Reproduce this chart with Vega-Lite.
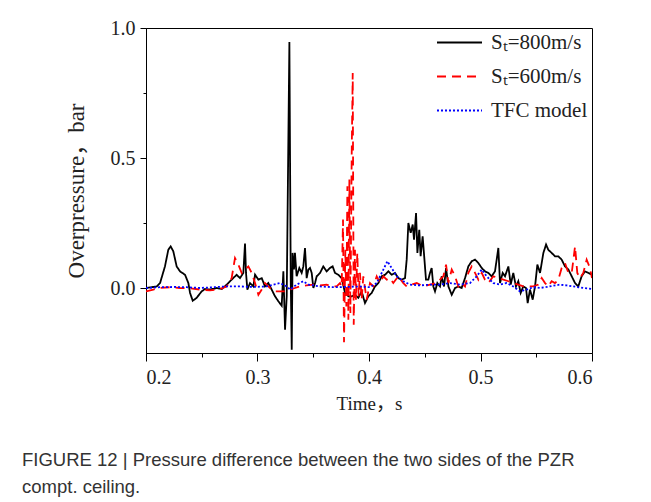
{
  "$schema": "https://vega.github.io/schema/vega-lite/v6.json",
  "autosize": {"type": "none"},
  "padding": {"left": 146, "top": 28, "right": 59, "bottom": 149},
  "width": 446,
  "height": 325,
  "background": "white",
  "title": {
    "text": ["FIGURE 12 | Pressure difference between the two sides of the PZR", "compt. ceiling."],
    "orient": "bottom",
    "anchor": "start",
    "frame": "group",
    "dx": -124,
    "offset": 38,
    "font": "Liberation Sans",
    "fontSize": 18.5,
    "fontWeight": "normal",
    "lineHeight": 27,
    "color": "#333333"
  },
  "config": {
    "view": {"stroke": "black", "strokeWidth": 1},
    "axis": {"domainColor": "black", "tickColor": "black", "labelColor": "#222222", "titleColor": "#222222", "grid": false}
  },
  "data": {"values": [
    {"t":0.2,"v":0,"s":"Sₜ=800m/s"},{"t":0.2096,"v":0.006,"s":"Sₜ=800m/s"},{"t":0.2126,"v":0.019,"s":"Sₜ=800m/s"},{"t":0.217,"v":0.083,"s":"Sₜ=800m/s"},{"t":0.22,"v":0.147,"s":"Sₜ=800m/s"},{"t":0.2221,"v":0.16,"s":"Sₜ=800m/s"},{"t":0.2245,"v":0.141,"s":"Sₜ=800m/s"},{"t":0.2275,"v":0.083,"s":"Sₜ=800m/s"},{"t":0.2305,"v":0.064,"s":"Sₜ=800m/s"},{"t":0.235,"v":0.051,"s":"Sₜ=800m/s"},{"t":0.238,"v":0.019,"s":"Sₜ=800m/s"},{"t":0.2395,"v":-0.019,"s":"Sₜ=800m/s"},{"t":0.2419,"v":-0.049,"s":"Sₜ=800m/s"},{"t":0.2454,"v":-0.038,"s":"Sₜ=800m/s"},{"t":0.2499,"v":-0.013,"s":"Sₜ=800m/s"},{"t":0.2529,"v":-0.004,"s":"Sₜ=800m/s"},{"t":0.2574,"v":-0.006,"s":"Sₜ=800m/s"},{"t":0.2634,"v":0,"s":"Sₜ=800m/s"},{"t":0.2679,"v":-0.004,"s":"Sₜ=800m/s"},{"t":0.2724,"v":0.013,"s":"Sₜ=800m/s"},{"t":0.2768,"v":0.032,"s":"Sₜ=800m/s"},{"t":0.2813,"v":0.051,"s":"Sₜ=800m/s"},{"t":0.2843,"v":0.038,"s":"Sₜ=800m/s"},{"t":0.2873,"v":0.058,"s":"Sₜ=800m/s"},{"t":0.2888,"v":0.171,"s":"Sₜ=800m/s"},{"t":0.2897,"v":0.058,"s":"Sₜ=800m/s"},{"t":0.2909,"v":-0.006,"s":"Sₜ=800m/s"},{"t":0.2933,"v":0.019,"s":"Sₜ=800m/s"},{"t":0.2963,"v":0.006,"s":"Sₜ=800m/s"},{"t":0.2978,"v":0.051,"s":"Sₜ=800m/s"},{"t":0.3008,"v":0.032,"s":"Sₜ=800m/s"},{"t":0.3038,"v":0.038,"s":"Sₜ=800m/s"},{"t":0.3067,"v":0.006,"s":"Sₜ=800m/s"},{"t":0.3097,"v":0.019,"s":"Sₜ=800m/s"},{"t":0.3127,"v":-0.006,"s":"Sₜ=800m/s"},{"t":0.3157,"v":-0.032,"s":"Sₜ=800m/s"},{"t":0.3187,"v":-0.051,"s":"Sₜ=800m/s"},{"t":0.3217,"v":-0.068,"s":"Sₜ=800m/s"},{"t":0.3232,"v":0.064,"s":"Sₜ=800m/s"},{"t":0.3247,"v":-0.16,"s":"Sₜ=800m/s"},{"t":0.3262,"v":-0.032,"s":"Sₜ=800m/s"},{"t":0.3286,"v":0.946,"s":"Sₜ=800m/s"},{"t":0.3298,"v":0.032,"s":"Sₜ=800m/s"},{"t":0.3307,"v":-0.237,"s":"Sₜ=800m/s"},{"t":0.3315,"v":0.135,"s":"Sₜ=800m/s"},{"t":0.3327,"v":0.071,"s":"Sₜ=800m/s"},{"t":0.3336,"v":0.135,"s":"Sₜ=800m/s"},{"t":0.3351,"v":0.045,"s":"Sₜ=800m/s"},{"t":0.3375,"v":0.077,"s":"Sₜ=800m/s"},{"t":0.3396,"v":0.058,"s":"Sₜ=800m/s"},{"t":0.3411,"v":0.083,"s":"Sₜ=800m/s"},{"t":0.3426,"v":0.154,"s":"Sₜ=800m/s"},{"t":0.3441,"v":0.038,"s":"Sₜ=800m/s"},{"t":0.3456,"v":0.071,"s":"Sₜ=800m/s"},{"t":0.3471,"v":0.077,"s":"Sₜ=800m/s"},{"t":0.3486,"v":0.058,"s":"Sₜ=800m/s"},{"t":0.3501,"v":0,"s":"Sₜ=800m/s"},{"t":0.3516,"v":0.019,"s":"Sₜ=800m/s"},{"t":0.3531,"v":0.045,"s":"Sₜ=800m/s"},{"t":0.3561,"v":0.058,"s":"Sₜ=800m/s"},{"t":0.359,"v":0.083,"s":"Sₜ=800m/s"},{"t":0.362,"v":0.064,"s":"Sₜ=800m/s"},{"t":0.365,"v":0.077,"s":"Sₜ=800m/s"},{"t":0.3674,"v":0.083,"s":"Sₜ=800m/s"},{"t":0.3695,"v":0.058,"s":"Sₜ=800m/s"},{"t":0.3725,"v":0.051,"s":"Sₜ=800m/s"},{"t":0.3755,"v":0.038,"s":"Sₜ=800m/s"},{"t":0.3785,"v":-0.019,"s":"Sₜ=800m/s"},{"t":0.3815,"v":-0.032,"s":"Sₜ=800m/s"},{"t":0.3845,"v":-0.032,"s":"Sₜ=800m/s"},{"t":0.3874,"v":-0.026,"s":"Sₜ=800m/s"},{"t":0.3904,"v":-0.038,"s":"Sₜ=800m/s"},{"t":0.3934,"v":-0.013,"s":"Sₜ=800m/s"},{"t":0.3964,"v":-0.058,"s":"Sₜ=800m/s"},{"t":0.3994,"v":-0.032,"s":"Sₜ=800m/s"},{"t":0.4024,"v":-0.019,"s":"Sₜ=800m/s"},{"t":0.4054,"v":0.006,"s":"Sₜ=800m/s"},{"t":0.4084,"v":0.019,"s":"Sₜ=800m/s"},{"t":0.4114,"v":0.045,"s":"Sₜ=800m/s"},{"t":0.4144,"v":0.051,"s":"Sₜ=800m/s"},{"t":0.4174,"v":0.064,"s":"Sₜ=800m/s"},{"t":0.4203,"v":0.051,"s":"Sₜ=800m/s"},{"t":0.4233,"v":0.058,"s":"Sₜ=800m/s"},{"t":0.4263,"v":0.038,"s":"Sₜ=800m/s"},{"t":0.4293,"v":0.032,"s":"Sₜ=800m/s"},{"t":0.4323,"v":0.038,"s":"Sₜ=800m/s"},{"t":0.4338,"v":0.109,"s":"Sₜ=800m/s"},{"t":0.4353,"v":0.25,"s":"Sₜ=800m/s"},{"t":0.4374,"v":0.212,"s":"Sₜ=800m/s"},{"t":0.4392,"v":0.244,"s":"Sₜ=800m/s"},{"t":0.4404,"v":0.186,"s":"Sₜ=800m/s"},{"t":0.4422,"v":0.288,"s":"Sₜ=800m/s"},{"t":0.4434,"v":0.135,"s":"Sₜ=800m/s"},{"t":0.4451,"v":0.224,"s":"Sₜ=800m/s"},{"t":0.4463,"v":0.122,"s":"Sₜ=800m/s"},{"t":0.4481,"v":0.199,"s":"Sₜ=800m/s"},{"t":0.4502,"v":0.083,"s":"Sₜ=800m/s"},{"t":0.4511,"v":0.032,"s":"Sₜ=800m/s"},{"t":0.4532,"v":0.032,"s":"Sₜ=800m/s"},{"t":0.4547,"v":0.058,"s":"Sₜ=800m/s"},{"t":0.4562,"v":0.077,"s":"Sₜ=800m/s"},{"t":0.4577,"v":0.006,"s":"Sₜ=800m/s"},{"t":0.4592,"v":-0.013,"s":"Sₜ=800m/s"},{"t":0.4613,"v":0.019,"s":"Sₜ=800m/s"},{"t":0.4637,"v":0.006,"s":"Sₜ=800m/s"},{"t":0.4652,"v":0.045,"s":"Sₜ=800m/s"},{"t":0.4673,"v":0.006,"s":"Sₜ=800m/s"},{"t":0.4691,"v":0.077,"s":"Sₜ=800m/s"},{"t":0.4712,"v":0.006,"s":"Sₜ=800m/s"},{"t":0.4742,"v":-0.026,"s":"Sₜ=800m/s"},{"t":0.4772,"v":0,"s":"Sₜ=800m/s"},{"t":0.4801,"v":0.006,"s":"Sₜ=800m/s"},{"t":0.4831,"v":0,"s":"Sₜ=800m/s"},{"t":0.4861,"v":0.038,"s":"Sₜ=800m/s"},{"t":0.4891,"v":0.083,"s":"Sₜ=800m/s"},{"t":0.4921,"v":0.103,"s":"Sₜ=800m/s"},{"t":0.4951,"v":0.109,"s":"Sₜ=800m/s"},{"t":0.4981,"v":0.096,"s":"Sₜ=800m/s"},{"t":0.5011,"v":0.077,"s":"Sₜ=800m/s"},{"t":0.504,"v":0.064,"s":"Sₜ=800m/s"},{"t":0.507,"v":0.058,"s":"Sₜ=800m/s"},{"t":0.51,"v":0.045,"s":"Sₜ=800m/s"},{"t":0.513,"v":0.064,"s":"Sₜ=800m/s"},{"t":0.516,"v":0.154,"s":"Sₜ=800m/s"},{"t":0.5175,"v":0.019,"s":"Sₜ=800m/s"},{"t":0.5199,"v":0.058,"s":"Sₜ=800m/s"},{"t":0.522,"v":0.045,"s":"Sₜ=800m/s"},{"t":0.525,"v":0.083,"s":"Sₜ=800m/s"},{"t":0.5271,"v":0.013,"s":"Sₜ=800m/s"},{"t":0.5294,"v":0.058,"s":"Sₜ=800m/s"},{"t":0.5318,"v":0.006,"s":"Sₜ=800m/s"},{"t":0.5339,"v":0.026,"s":"Sₜ=800m/s"},{"t":0.536,"v":-0.019,"s":"Sₜ=800m/s"},{"t":0.5384,"v":0.006,"s":"Sₜ=800m/s"},{"t":0.5408,"v":0,"s":"Sₜ=800m/s"},{"t":0.5423,"v":-0.058,"s":"Sₜ=800m/s"},{"t":0.5444,"v":-0.006,"s":"Sₜ=800m/s"},{"t":0.5468,"v":-0.045,"s":"Sₜ=800m/s"},{"t":0.5489,"v":0.006,"s":"Sₜ=800m/s"},{"t":0.551,"v":0.09,"s":"Sₜ=800m/s"},{"t":0.5534,"v":0.058,"s":"Sₜ=800m/s"},{"t":0.5564,"v":0.135,"s":"Sₜ=800m/s"},{"t":0.5588,"v":0.167,"s":"Sₜ=800m/s"},{"t":0.5608,"v":0.147,"s":"Sₜ=800m/s"},{"t":0.5638,"v":0.135,"s":"Sₜ=800m/s"},{"t":0.5668,"v":0.122,"s":"Sₜ=800m/s"},{"t":0.5698,"v":0.122,"s":"Sₜ=800m/s"},{"t":0.5728,"v":0.109,"s":"Sₜ=800m/s"},{"t":0.5758,"v":0.083,"s":"Sₜ=800m/s"},{"t":0.5788,"v":0.071,"s":"Sₜ=800m/s"},{"t":0.5818,"v":0.045,"s":"Sₜ=800m/s"},{"t":0.5848,"v":0.019,"s":"Sₜ=800m/s"},{"t":0.5877,"v":0.006,"s":"Sₜ=800m/s"},{"t":0.5907,"v":0.045,"s":"Sₜ=800m/s"},{"t":0.5937,"v":0.064,"s":"Sₜ=800m/s"},{"t":0.5967,"v":0.058,"s":"Sₜ=800m/s"},{"t":0.6,"v":0.051,"s":"Sₜ=800m/s"},
    {"t":0.2,"v":-0.013,"s":"Sₜ=600m/s"},{"t":0.2066,"v":-0.006,"s":"Sₜ=600m/s"},{"t":0.2126,"v":0,"s":"Sₜ=600m/s"},{"t":0.2215,"v":0.003,"s":"Sₜ=600m/s"},{"t":0.2305,"v":0,"s":"Sₜ=600m/s"},{"t":0.2395,"v":-0.001,"s":"Sₜ=600m/s"},{"t":0.2484,"v":-0.006,"s":"Sₜ=600m/s"},{"t":0.2574,"v":-0.009,"s":"Sₜ=600m/s"},{"t":0.2664,"v":-0.004,"s":"Sₜ=600m/s"},{"t":0.2724,"v":0.006,"s":"Sₜ=600m/s"},{"t":0.2768,"v":0.038,"s":"Sₜ=600m/s"},{"t":0.2798,"v":0.115,"s":"Sₜ=600m/s"},{"t":0.2828,"v":0.09,"s":"Sₜ=600m/s"},{"t":0.2858,"v":0.058,"s":"Sₜ=600m/s"},{"t":0.2888,"v":0.071,"s":"Sₜ=600m/s"},{"t":0.2918,"v":0.083,"s":"Sₜ=600m/s"},{"t":0.2948,"v":0.058,"s":"Sₜ=600m/s"},{"t":0.2978,"v":0.019,"s":"Sₜ=600m/s"},{"t":0.3008,"v":-0.026,"s":"Sₜ=600m/s"},{"t":0.3038,"v":-0.006,"s":"Sₜ=600m/s"},{"t":0.3067,"v":0.019,"s":"Sₜ=600m/s"},{"t":0.3097,"v":0.006,"s":"Sₜ=600m/s"},{"t":0.3127,"v":-0.006,"s":"Sₜ=600m/s"},{"t":0.3157,"v":-0.013,"s":"Sₜ=600m/s"},{"t":0.3202,"v":-0.013,"s":"Sₜ=600m/s"},{"t":0.3247,"v":-0.013,"s":"Sₜ=600m/s"},{"t":0.3292,"v":-0.006,"s":"Sₜ=600m/s"},{"t":0.3336,"v":0,"s":"Sₜ=600m/s"},{"t":0.3381,"v":0.006,"s":"Sₜ=600m/s"},{"t":0.3441,"v":0.01,"s":"Sₜ=600m/s"},{"t":0.3501,"v":0.013,"s":"Sₜ=600m/s"},{"t":0.3561,"v":0.01,"s":"Sₜ=600m/s"},{"t":0.362,"v":0.013,"s":"Sₜ=600m/s"},{"t":0.3665,"v":0.006,"s":"Sₜ=600m/s"},{"t":0.371,"v":0.006,"s":"Sₜ=600m/s"},{"t":0.374,"v":0.019,"s":"Sₜ=600m/s"},{"t":0.3755,"v":0.006,"s":"Sₜ=600m/s"},{"t":0.3767,"v":0.263,"s":"Sₜ=600m/s"},{"t":0.3776,"v":-0.209,"s":"Sₜ=600m/s"},{"t":0.3788,"v":0.147,"s":"Sₜ=600m/s"},{"t":0.3797,"v":-0.071,"s":"Sₜ=600m/s"},{"t":0.3806,"v":0.391,"s":"Sₜ=600m/s"},{"t":0.3815,"v":-0.122,"s":"Sₜ=600m/s"},{"t":0.3824,"v":0.417,"s":"Sₜ=600m/s"},{"t":0.3833,"v":-0.096,"s":"Sₜ=600m/s"},{"t":0.3845,"v":0.519,"s":"Sₜ=600m/s"},{"t":0.3854,"v":0.827,"s":"Sₜ=600m/s"},{"t":0.3863,"v":-0.141,"s":"Sₜ=600m/s"},{"t":0.3874,"v":0.147,"s":"Sₜ=600m/s"},{"t":0.3883,"v":-0.045,"s":"Sₜ=600m/s"},{"t":0.3895,"v":0.135,"s":"Sₜ=600m/s"},{"t":0.3907,"v":-0.032,"s":"Sₜ=600m/s"},{"t":0.3919,"v":0.058,"s":"Sₜ=600m/s"},{"t":0.3934,"v":-0.045,"s":"Sₜ=600m/s"},{"t":0.3949,"v":0.045,"s":"Sₜ=600m/s"},{"t":0.3979,"v":-0.045,"s":"Sₜ=600m/s"},{"t":0.4009,"v":0.019,"s":"Sₜ=600m/s"},{"t":0.4039,"v":0.006,"s":"Sₜ=600m/s"},{"t":0.4069,"v":0.045,"s":"Sₜ=600m/s"},{"t":0.4099,"v":0.019,"s":"Sₜ=600m/s"},{"t":0.4129,"v":0.045,"s":"Sₜ=600m/s"},{"t":0.4159,"v":0.032,"s":"Sₜ=600m/s"},{"t":0.4188,"v":0.038,"s":"Sₜ=600m/s"},{"t":0.4218,"v":0.019,"s":"Sₜ=600m/s"},{"t":0.4263,"v":0.045,"s":"Sₜ=600m/s"},{"t":0.4308,"v":0.019,"s":"Sₜ=600m/s"},{"t":0.4338,"v":0.006,"s":"Sₜ=600m/s"},{"t":0.4383,"v":0.013,"s":"Sₜ=600m/s"},{"t":0.4428,"v":0.019,"s":"Sₜ=600m/s"},{"t":0.4487,"v":0.006,"s":"Sₜ=600m/s"},{"t":0.4547,"v":0.013,"s":"Sₜ=600m/s"},{"t":0.4607,"v":0.019,"s":"Sₜ=600m/s"},{"t":0.4637,"v":0.032,"s":"Sₜ=600m/s"},{"t":0.4667,"v":0.045,"s":"Sₜ=600m/s"},{"t":0.4691,"v":0.09,"s":"Sₜ=600m/s"},{"t":0.4712,"v":0.019,"s":"Sₜ=600m/s"},{"t":0.4742,"v":0.071,"s":"Sₜ=600m/s"},{"t":0.4772,"v":0.045,"s":"Sₜ=600m/s"},{"t":0.4801,"v":0.006,"s":"Sₜ=600m/s"},{"t":0.4831,"v":0.019,"s":"Sₜ=600m/s"},{"t":0.4861,"v":0.006,"s":"Sₜ=600m/s"},{"t":0.4891,"v":0.058,"s":"Sₜ=600m/s"},{"t":0.4921,"v":0.083,"s":"Sₜ=600m/s"},{"t":0.4951,"v":0.058,"s":"Sₜ=600m/s"},{"t":0.4981,"v":0.032,"s":"Sₜ=600m/s"},{"t":0.5011,"v":0.058,"s":"Sₜ=600m/s"},{"t":0.504,"v":0.032,"s":"Sₜ=600m/s"},{"t":0.507,"v":0.019,"s":"Sₜ=600m/s"},{"t":0.5115,"v":0.045,"s":"Sₜ=600m/s"},{"t":0.516,"v":0.038,"s":"Sₜ=600m/s"},{"t":0.5205,"v":0.032,"s":"Sₜ=600m/s"},{"t":0.525,"v":0.026,"s":"Sₜ=600m/s"},{"t":0.5294,"v":0.019,"s":"Sₜ=600m/s"},{"t":0.5339,"v":0.013,"s":"Sₜ=600m/s"},{"t":0.5384,"v":0.006,"s":"Sₜ=600m/s"},{"t":0.5429,"v":0.006,"s":"Sₜ=600m/s"},{"t":0.5474,"v":0.006,"s":"Sₜ=600m/s"},{"t":0.5519,"v":0.013,"s":"Sₜ=600m/s"},{"t":0.5549,"v":0.038,"s":"Sₜ=600m/s"},{"t":0.5579,"v":0.019,"s":"Sₜ=600m/s"},{"t":0.5608,"v":0.006,"s":"Sₜ=600m/s"},{"t":0.5638,"v":0.026,"s":"Sₜ=600m/s"},{"t":0.5668,"v":0.019,"s":"Sₜ=600m/s"},{"t":0.5698,"v":0.032,"s":"Sₜ=600m/s"},{"t":0.5728,"v":0.077,"s":"Sₜ=600m/s"},{"t":0.5758,"v":0.096,"s":"Sₜ=600m/s"},{"t":0.5788,"v":0.058,"s":"Sₜ=600m/s"},{"t":0.5818,"v":0.058,"s":"Sₜ=600m/s"},{"t":0.5848,"v":0.16,"s":"Sₜ=600m/s"},{"t":0.5868,"v":0.058,"s":"Sₜ=600m/s"},{"t":0.5892,"v":0.038,"s":"Sₜ=600m/s"},{"t":0.5922,"v":0.058,"s":"Sₜ=600m/s"},{"t":0.5952,"v":0.109,"s":"Sₜ=600m/s"},{"t":0.5982,"v":0.077,"s":"Sₜ=600m/s"},{"t":0.6,"v":0.038,"s":"Sₜ=600m/s"},
    {"t":0.2,"v":0,"s":"TFC model"},{"t":0.2126,"v":0.003,"s":"TFC model"},{"t":0.2245,"v":0.004,"s":"TFC model"},{"t":0.2365,"v":0.003,"s":"TFC model"},{"t":0.2484,"v":0,"s":"TFC model"},{"t":0.2604,"v":0.003,"s":"TFC model"},{"t":0.2724,"v":0.006,"s":"TFC model"},{"t":0.2843,"v":0.006,"s":"TFC model"},{"t":0.2963,"v":0.004,"s":"TFC model"},{"t":0.3082,"v":0.006,"s":"TFC model"},{"t":0.3142,"v":0.013,"s":"TFC model"},{"t":0.3202,"v":0.019,"s":"TFC model"},{"t":0.3262,"v":0.006,"s":"TFC model"},{"t":0.3292,"v":-0.006,"s":"TFC model"},{"t":0.3351,"v":0.013,"s":"TFC model"},{"t":0.3411,"v":0.026,"s":"TFC model"},{"t":0.3456,"v":0.013,"s":"TFC model"},{"t":0.3561,"v":0.006,"s":"TFC model"},{"t":0.368,"v":0.003,"s":"TFC model"},{"t":0.38,"v":0.004,"s":"TFC model"},{"t":0.3919,"v":0.006,"s":"TFC model"},{"t":0.4009,"v":0.003,"s":"TFC model"},{"t":0.4069,"v":0.019,"s":"TFC model"},{"t":0.4114,"v":0.058,"s":"TFC model"},{"t":0.4165,"v":0.103,"s":"TFC model"},{"t":0.4203,"v":0.077,"s":"TFC model"},{"t":0.4248,"v":0.045,"s":"TFC model"},{"t":0.4308,"v":0.026,"s":"TFC model"},{"t":0.4368,"v":0.013,"s":"TFC model"},{"t":0.4457,"v":0.01,"s":"TFC model"},{"t":0.4547,"v":0.013,"s":"TFC model"},{"t":0.4637,"v":0.013,"s":"TFC model"},{"t":0.4727,"v":0.019,"s":"TFC model"},{"t":0.4816,"v":0.013,"s":"TFC model"},{"t":0.4906,"v":0.019,"s":"TFC model"},{"t":0.4966,"v":0.045,"s":"TFC model"},{"t":0.5011,"v":0.071,"s":"TFC model"},{"t":0.5055,"v":0.045,"s":"TFC model"},{"t":0.5115,"v":0.019,"s":"TFC model"},{"t":0.5175,"v":0.013,"s":"TFC model"},{"t":0.5235,"v":0.019,"s":"TFC model"},{"t":0.5294,"v":0.006,"s":"TFC model"},{"t":0.5354,"v":-0.013,"s":"TFC model"},{"t":0.5414,"v":-0.006,"s":"TFC model"},{"t":0.5474,"v":0.003,"s":"TFC model"},{"t":0.5534,"v":0,"s":"TFC model"},{"t":0.5594,"v":0.004,"s":"TFC model"},{"t":0.5653,"v":0.009,"s":"TFC model"},{"t":0.5713,"v":0.013,"s":"TFC model"},{"t":0.5773,"v":0.01,"s":"TFC model"},{"t":0.5833,"v":0.006,"s":"TFC model"},{"t":0.5922,"v":0,"s":"TFC model"},{"t":0.6,"v":-0.004,"s":"TFC model"}
  ]},
  "mark": {"type": "line", "strokeWidth": 1.8, "clip": true},
  "encoding": {
    "x": {
      "field": "t", "type": "quantitative",
      "scale": {"domain": [0.2, 0.6], "nice": false, "zero": false},
      "axis": {
        "title": "Time，s",
        "values": [0.2, 0.25, 0.3, 0.35, 0.4, 0.45, 0.5, 0.55, 0.6],
        "labelExpr": "round(datum.value*100) % 10 == 0 ? format(datum.value, '.1f') : ''",
        "tickSize": {"condition": {"test": "round(datum.value*100) % 10 == 5", "value": 4}, "value": 8},
        "labelFont": "Liberation Serif", "labelFontSize": 20, "labelPadding": 6,
        "titleFont": "Liberation Serif, Noto Sans CJK SC", "titleFontSize": 19, "titleFontWeight": "normal", "titlePadding": 7
      }
    },
    "y": {
      "field": "v", "type": "quantitative",
      "scale": {"domain": [-0.25, 1.0], "nice": false, "zero": false},
      "axis": {
        "title": "Overpressure，bar",
        "values": [0, 0.25, 0.5, 0.75, 1.0],
        "labelExpr": "round(datum.value*100) % 50 == 0 ? format(datum.value, '.1f') : ''",
        "tickSize": {"condition": {"test": "round(datum.value*100) % 50 != 0", "value": 3}, "value": 6},
        "labelFont": "Liberation Serif", "labelFontSize": 20, "labelPadding": 5,
        "titleFont": "Liberation Serif, Noto Sans CJK SC", "titleFontSize": 23, "titleFontWeight": "normal", "titlePadding": 22
      }
    },
    "color": {
      "field": "s", "type": "nominal",
      "scale": {"domain": ["Sₜ=800m/s", "Sₜ=600m/s", "TFC model"], "range": ["#000000", "#ff0000", "#0000ff"]},
      "legend": {
        "title": null, "orient": "none", "legendX": 290, "legendY": -9,
        "symbolType": "stroke", "symbolSize": 2025, "symbolStrokeWidth": 1.8,
        "labelFont": "Liberation Serif", "labelFontSize": 21, "labelColor": "#222222",
        "rowPadding": -6, "padding": 0, "labelOffset": 8
      }
    },
    "strokeDash": {
      "field": "s", "type": "nominal",
      "scale": {"domain": ["Sₜ=800m/s", "Sₜ=600m/s", "TFC model"], "range": [[1, 0], [9, 6], [2, 2]]},
      "legend": null
    }
  }
}
